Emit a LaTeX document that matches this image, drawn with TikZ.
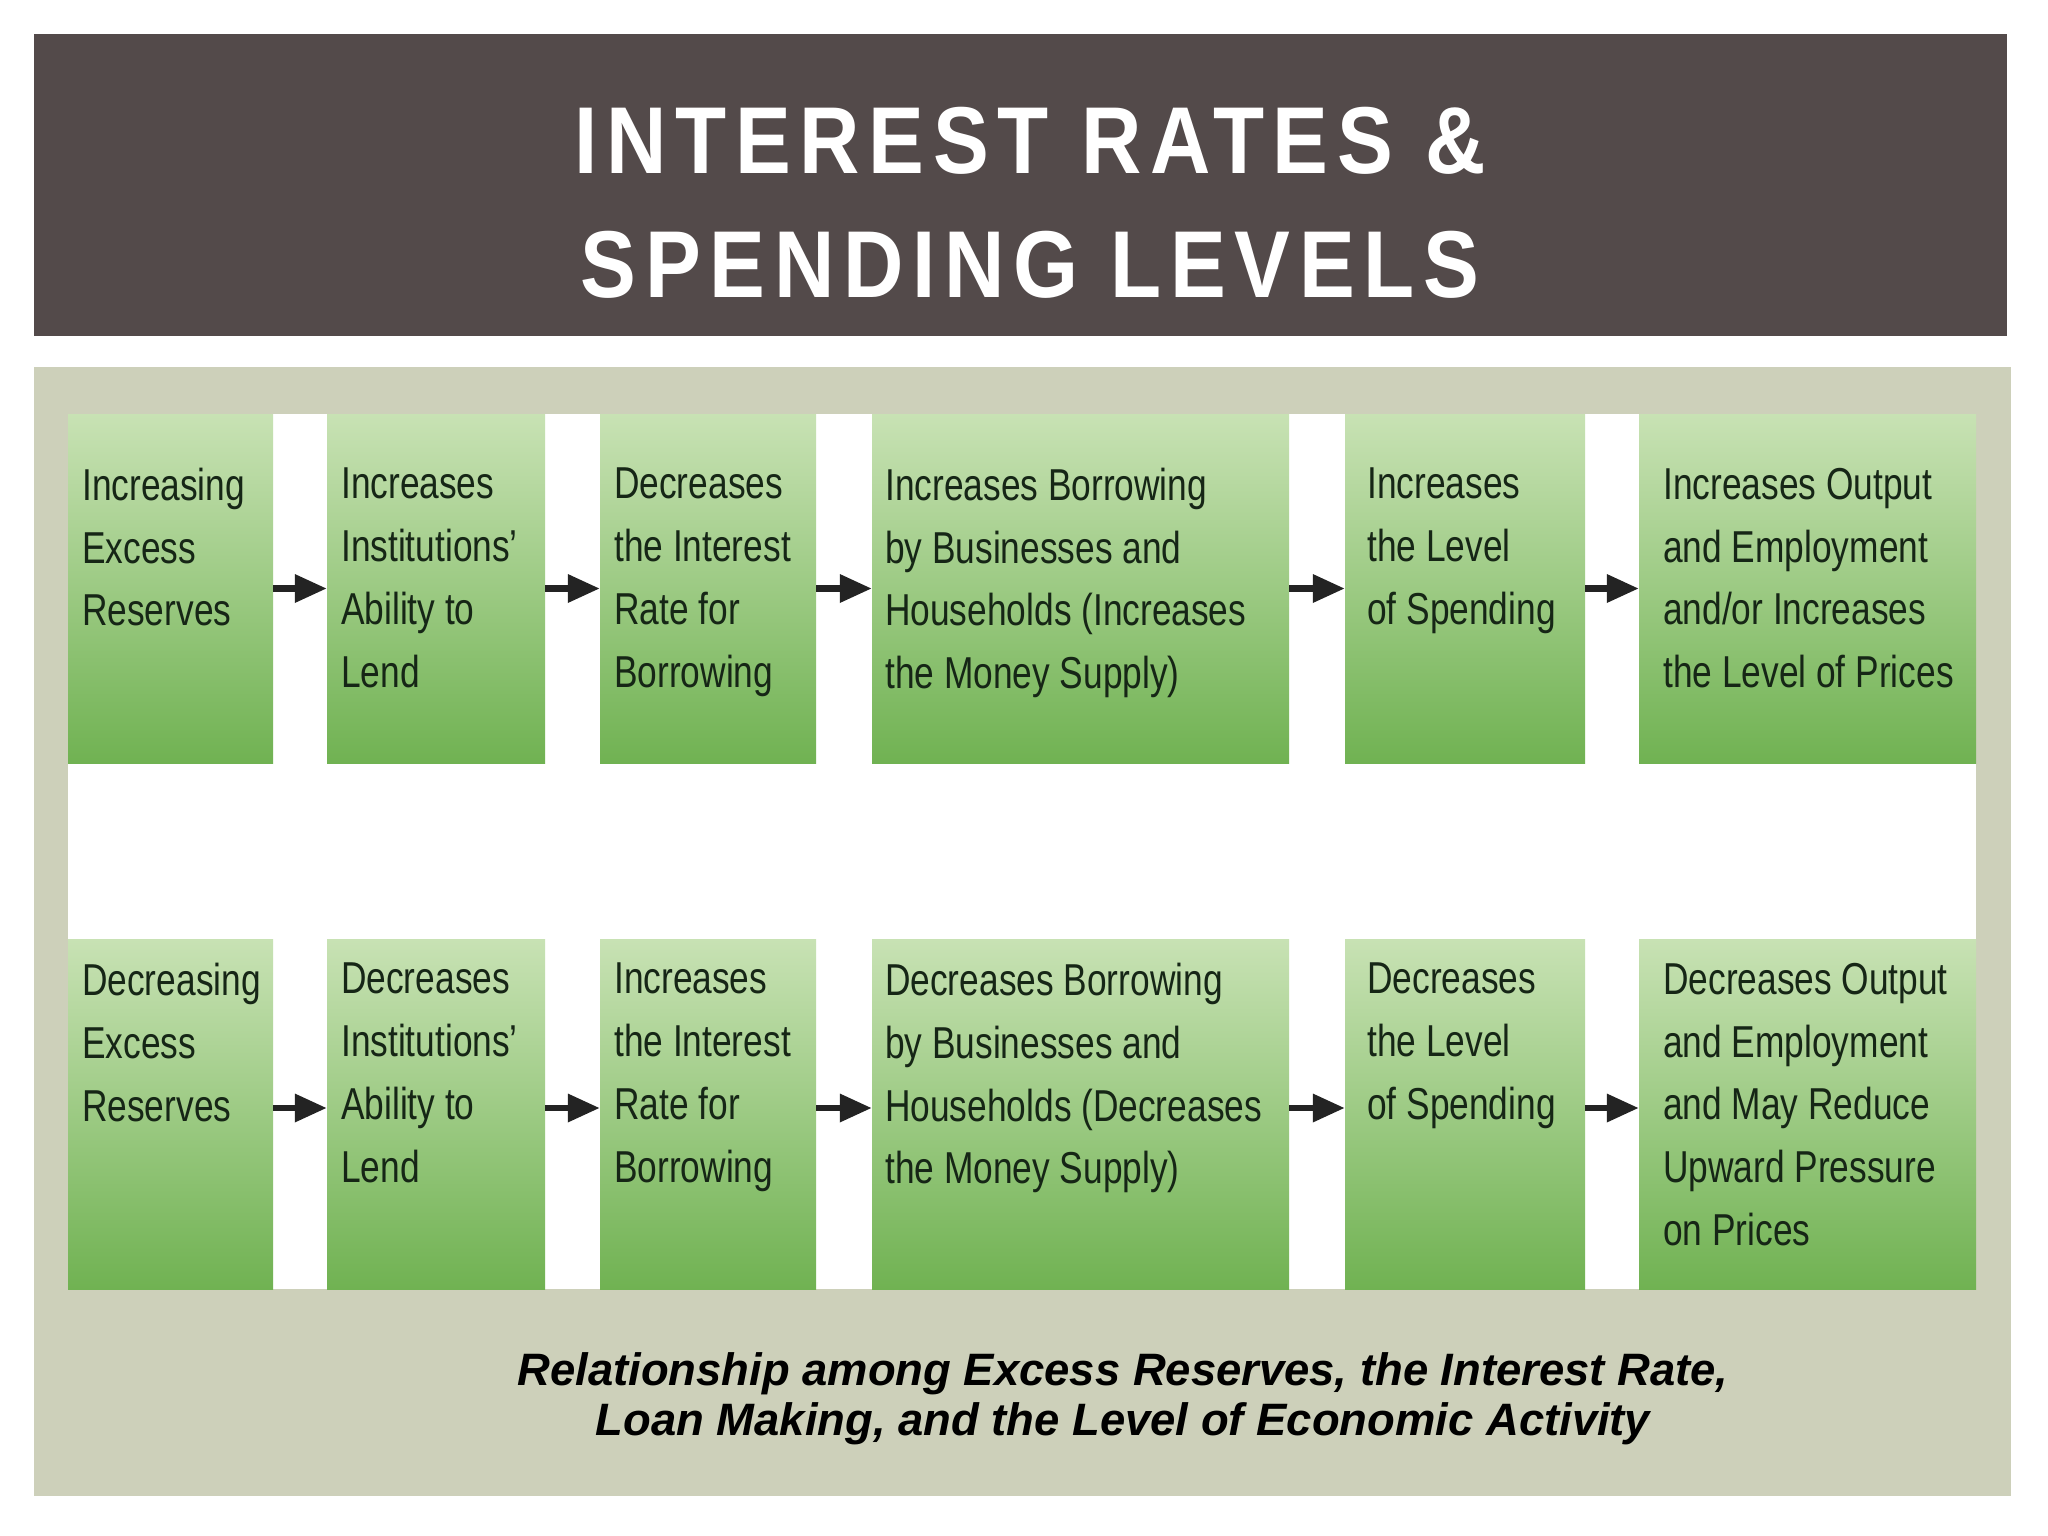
\documentclass[tikz,border=0pt]{standalone}
\usepackage{fontspec}
\setmainfont{Liberation Sans}
\newfontfamily\boxfont[FakeStretch=0.79]{Liberation Sans}
\newfontfamily\titlefont[FakeStretch=0.88,LetterSpace=9.2]{Liberation Sans}
\newfontfamily\capfont{Liberation Sans}
\usetikzlibrary{arrows.meta}
\definecolor{titlebg}{RGB}{83,74,74}
\definecolor{panel}{RGB}{205,208,186}
\definecolor{gtop}{RGB}{200,226,180}
\definecolor{gbot}{RGB}{112,178,82}
\definecolor{txt}{RGB}{22,38,22}
\definecolor{arrowc}{RGB}{35,35,35}
\begin{document}
\begin{tikzpicture}[x=1pt,y=-1pt,
  gbox/.style={rectangle, inner sep=0pt, draw=none, top color=gtop, bottom color=gbot},
  btext/.style={anchor=north west, inner sep=0pt, align=left, text=txt,
    font=\boxfont\fontsize{44.7}{62.7}\selectfont},
  arr/.style={draw=arrowc, line width=6.5pt, -{Triangle[length=32pt,width=27pt]}},
  ttl/.style={anchor=base, inner sep=0pt, text=white, font=\titlefont\bfseries\fontsize{95}{110}\selectfont},
  captext/.style={anchor=base, inner sep=0pt, text=black, font=\capfont\bfseries\itshape\fontsize{45.4}{50}\selectfont}]
\useasboundingbox (0,0) rectangle (2048,1536);
\fill[white] (0,0) rectangle (2048,1536);
\fill[titlebg] (34,34) rectangle (2007,336);
\fill[panel] (34,367) rectangle (2011,1496);
\fill[white] (68,414) rectangle (1976,1289);
\node[ttl] (title1) at (1030,174) {INTEREST RATES \&};
\node[ttl] (title2) at (1030,297) {SPENDING LEVELS};
% row 1 boxes
\node[gbox, minimum width=205pt, minimum height=349pt] (a1) at (170.5,588.5) {};
\node[gbox, minimum width=218pt, minimum height=349pt] (a2) at (436,588.5) {};
\node[gbox, minimum width=216pt, minimum height=349pt] (a3) at (708,588.5) {};
\node[gbox, minimum width=417pt, minimum height=349pt] (a4) at (1080.5,588.5) {};
\node[gbox, minimum width=240pt, minimum height=349pt] (a5) at (1465,588.5) {};
\node[gbox, minimum width=337pt, minimum height=349pt] (a6) at (1807.5,588.5) {};
% row 2 boxes
\node[gbox, minimum width=205pt, minimum height=350pt] (b1) at (170.5,1114) {};
\node[gbox, minimum width=218pt, minimum height=350pt] (b2) at (436,1114) {};
\node[gbox, minimum width=216pt, minimum height=350pt] (b3) at (708,1114) {};
\node[gbox, minimum width=417pt, minimum height=350pt] (b4) at (1080.5,1114) {};
\node[gbox, minimum width=240pt, minimum height=350pt] (b5) at (1465,1114) {};
\node[gbox, minimum width=337pt, minimum height=350pt] (b6) at (1807.5,1114) {};
% row 1 texts
\node[btext] (ta1) at (82,468) {Increasing\\Excess\\Reserves};
\node[btext] (ta2) at (341,468) {Increases\\Institutions’\\Ability to\\Lend};
\node[btext] (ta3) at (614,468) {Decreases\\the Interest\\Rate for\\Borrowing};
\node[btext] (ta4) at (885,468) {Increases Borrowing\\by Businesses and\\Households (Increases\\the Money Supply)};
\node[btext] (ta5) at (1367,468) {Increases\\the Level\\of Spending};
\node[btext] (ta6) at (1663,468) {Increases Output\\and Employment\\and/or Increases\\the Level of Prices};
% row 2 texts
\node[btext] (tb1) at (82,963) {Decreasing\\Excess\\Reserves};
\node[btext] (tb2) at (341,963) {Decreases\\Institutions’\\Ability to\\Lend};
\node[btext] (tb3) at (614,963) {Increases\\the Interest\\Rate for\\Borrowing};
\node[btext] (tb4) at (885,963) {Decreases Borrowing\\by Businesses and\\Households (Decreases\\the Money Supply)};
\node[btext] (tb5) at (1367,963) {Decreases\\the Level\\of Spending};
\node[btext] (tb6) at (1663,963) {Decreases Output\\and Employment\\and May Reduce\\Upward Pressure\\on Prices};
% arrows
\foreach \i/\j in {1/2,2/3,3/4,4/5,5/6}{
  \draw[arr] (a\i.east) -- (a\j.west);
  \draw[arr] ([yshift=6pt]b\i.east) -- ([yshift=6pt]b\j.west);
}
% caption
\node[captext] (cap1) at (1123,1385) {Relationship among Excess Reserves, the Interest Rate,};
\node[captext] (cap2) at (1123,1435) {Loan Making, and the Level of Economic Activity};
\end{tikzpicture}
\end{document}
